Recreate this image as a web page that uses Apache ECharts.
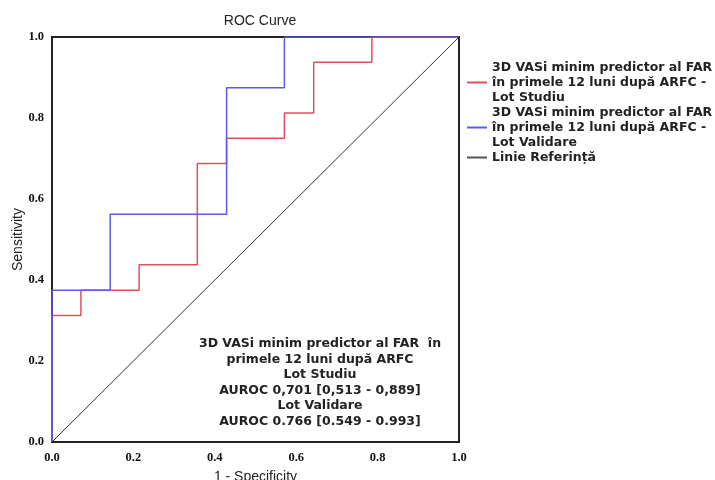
<!DOCTYPE html>
<html>
<head>
<meta charset="utf-8">
<script src="https://cdn.jsdelivr.net/npm/echarts@6/dist/echarts.min.js"></script>
<style>
    html, body {margin: 0; padding: 0; background: #fff;}
    #rocChart {width: 715px; height: 480px;}
</style>
</head>
<body>
<div id="rocChart"></div>
<script>
// ROC - Lot Studiu (1 - specificitate, sensibilitate)
var studiuFpr = [0, 0, 0.071, 0.071, 0.214, 0.214, 0.357, 0.357, 0.429, 0.429, 0.571, 0.571, 0.643, 0.643, 0.786, 0.786, 1];
var studiuTpr = [0, 0.3125, 0.3125, 0.375, 0.375, 0.4375, 0.4375, 0.6875, 0.6875, 0.75, 0.75, 0.8125, 0.8125, 0.9375, 0.9375, 1, 1];
// ROC - Lot Validare
var validareFpr = [0, 0, 0.143, 0.143, 0.429, 0.429, 0.571, 0.571, 1];
var validareTpr = [0, 0.375, 0.375, 0.5625, 0.5625, 0.875, 0.875, 1, 1];
// linia de referinta
var refX = [0, 1];
var refY = [0, 1];

var numeStudiu = '3D VASi minim predictor al FAR\nîn primele 12 luni după ARFC -\nLot Studiu';
var numeValidare = '3D VASi minim predictor al FAR\nîn primele 12 luni după ARFC -\nLot Validare';
var numeRef = 'Linie Referință';

function pairs(xs, ys) {
    return xs.map(function (x, i) { return [x, ys[i]]; });
}

var rocChart = echarts.init(document.getElementById('rocChart'));
var tickFont = {fontFamily: 'Liberation Serif', fontWeight: 'bold', fontSize: 12.5, color: '#111'};
var nameFont = {fontFamily: 'Liberation Sans', fontSize: 14, color: '#222'};
var rocOption = {
    animation: false,
    title: {
        text: 'ROC Curve',
        left: 255, top: 9, textAlign: 'center',
        textStyle: {fontFamily: 'Liberation Sans', fontWeight: 'normal', fontSize: 14, color: '#222'}
    },
    grid: {
        left: 52, top: 37, width: 407, height: 405,
        outerBoundsMode: 'none', containLabel: false,
        show: true, borderColor: '#222', borderWidth: 2, backgroundColor: '#fff'
    },
    legend: {
        orient: 'vertical', left: 467, top: 60, padding: 0,
        itemGap: 0, itemWidth: 20, itemHeight: 2, icon: 'rect',
        data: [numeStudiu, numeValidare, numeRef],
        textStyle: {fontFamily: 'DejaVu Sans', fontWeight: 'bold', fontSize: 12.5, lineHeight: 15, color: '#222'}
    },
    xAxis: {
        type: 'value', min: 0, max: 1, interval: 0.2,
        name: '1 - Specificity', nameLocation: 'middle', nameGap: 28, nameMoveOverlap: false,
        nameTextStyle: nameFont,
        axisLine: {show: false}, axisTick: {show: false}, splitLine: {show: false},
        axisLabel: Object.assign({margin: 9, formatter: function (v) { return v.toFixed(1); }}, tickFont)
    },
    yAxis: {
        type: 'value', min: 0, max: 1, interval: 0.2,
        name: 'Sensitivity', nameLocation: 'middle', nameGap: 27, nameMoveOverlap: false,
        nameTextStyle: nameFont,
        axisLine: {show: false}, axisTick: {show: false}, splitLine: {show: false},
        axisLabel: Object.assign({margin: 8, padding: [4, 0, 0, 0], formatter: function (v) { return v.toFixed(1); }}, tickFont)
    },
    graphic: [{
        type: 'text', x: 320, y: 336,
        style: {
            text: '3D VASi minim predictor al FAR  în\nprimele 12 luni după ARFC\nLot Studiu\nAUROC 0,701 [0,513 - 0,889]\nLot Validare\nAUROC 0.766 [0.549 - 0.993]',
            align: 'center', verticalAlign: 'top', lineHeight: 15.5,
            font: 'bold 12.5px "DejaVu Sans"', fill: '#222'
        }
    }],
    series: [
        {name: numeStudiu, type: 'line', symbol: 'none', data: pairs(studiuFpr, studiuTpr),
            lineStyle: {color: '#e0505a', width: 1.5}, itemStyle: {color: '#e0505a'}},
        {name: numeValidare, type: 'line', symbol: 'none', data: pairs(validareFpr, validareTpr),
            lineStyle: {color: '#5b5be6', width: 1.5}, itemStyle: {color: '#5b5be6'}},
        {name: numeRef, type: 'line', symbol: 'none', data: pairs(refX, refY),
            lineStyle: {color: '#333', width: 1}, itemStyle: {color: '#555'}}
    ]
};
rocChart.setOption(rocOption);
</script>
</body>
</html>
